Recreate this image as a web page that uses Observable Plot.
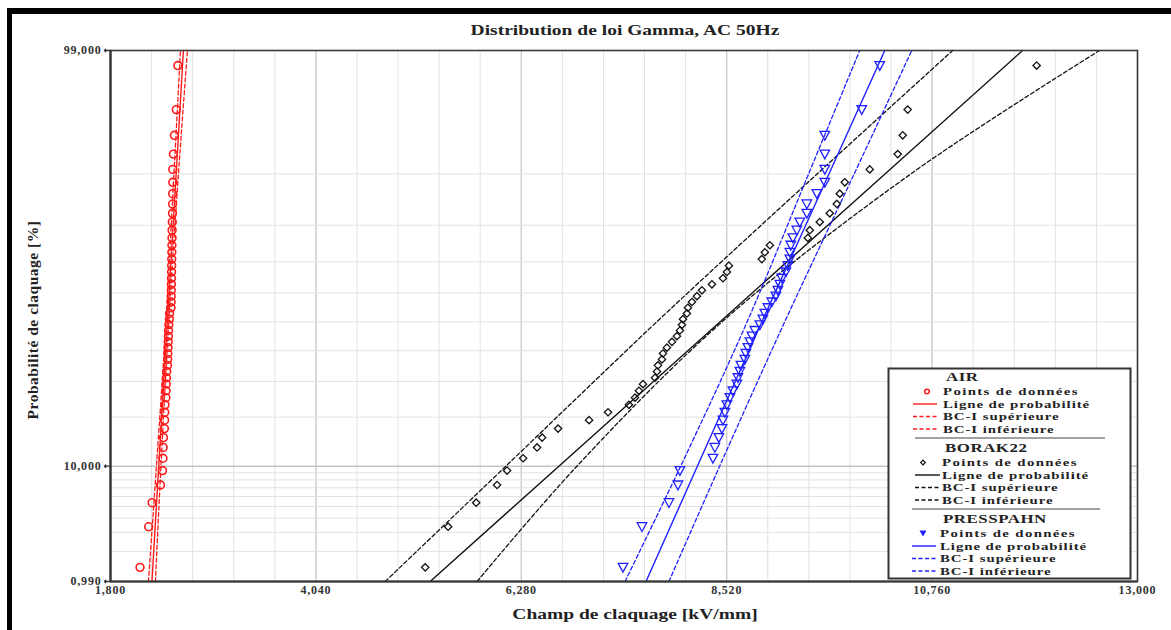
<!DOCTYPE html>
<html>
<head>
<meta charset="utf-8">
<script src="https://cdn.jsdelivr.net/npm/d3@7"></script>
<script src="https://cdn.jsdelivr.net/npm/@observablehq/plot@0.6"></script>
<style>
  html, body { margin: 0; padding: 0; background: #fff; }
  #fig { position: relative; width: 1171px; height: 630px; overflow: hidden;
         font-family: "Liberation Serif", "Times New Roman", serif; font-weight: bold; color: #222; }
  #cadre { position: absolute; left: 7px; top: 8px; width: 1300px; height: 800px;
           border-left: 5px solid #000; border-top: 6px solid #000; }
  .t { position: absolute; white-space: nowrap; line-height: 1; }
  #fig svg { position: absolute; left: 0; top: 0; }
</style>
</head>
<body>
<div id="fig"><div id="cadre"></div></div>
<script>
// Probabilités de claquage (%) des 50 essais, rangées par ordre croissant
const probClaquage = [1.39, 3.37, 5.36, 7.34, 9.33, 11.31, 13.29, 15.28, 17.26, 19.25,
  21.23, 23.21, 25.20, 27.18, 29.17, 31.15, 33.13, 35.12, 37.10, 39.09,
  41.07, 43.06, 45.04, 47.02, 49.01, 50.99, 52.98, 54.96, 56.94, 58.93,
  60.91, 62.90, 64.88, 66.87, 68.85, 70.83, 72.82, 74.80, 76.79, 78.77,
  80.75, 82.74, 84.72, 86.71, 88.69, 90.67, 92.66, 94.64, 96.63, 98.61];

// Champs de claquage mesurés (kV/mm), même ordre
const champAir = [2.122, 2.216, 2.254, 2.345, 2.367, 2.372, 2.374, 2.378, 2.388, 2.390,
  2.392, 2.395, 2.404, 2.406, 2.408, 2.410, 2.413, 2.422, 2.423, 2.425,
  2.427, 2.429, 2.431, 2.433, 2.436, 2.442, 2.444, 2.460, 2.461, 2.462,
  2.463, 2.464, 2.465, 2.466, 2.467, 2.468, 2.469, 2.470, 2.471, 2.472,
  2.474, 2.476, 2.477, 2.478, 2.479, 2.479, 2.486, 2.497, 2.517, 2.535];
const champBorak = [5.232, 5.482, 5.788, 6.016, 6.125, 6.300, 6.452, 6.507, 6.681, 7.019,
  7.226, 7.454, 7.520, 7.563, 7.607, 7.738, 7.760, 7.770, 7.814, 7.825,
  7.868, 7.923, 7.977, 8.010, 8.032, 8.043, 8.086, 8.097, 8.141, 8.195,
  8.250, 8.359, 8.479, 8.522, 8.544, 8.903, 8.936, 8.991, 9.405, 9.426,
  9.535, 9.644, 9.721, 9.753, 9.808, 10.080, 10.385, 10.440, 10.494, 11.900];
const champPresspahn = [7.389, 7.596, 7.890, 7.988, 8.010, 8.370, 8.391, 8.435, 8.468, 8.479,
  8.500, 8.522, 8.555, 8.588, 8.631, 8.642, 8.664, 8.675, 8.718, 8.729,
  8.751, 8.773, 8.795, 8.827, 8.882, 8.914, 8.936, 8.969, 9.012, 9.056,
  9.078, 9.100, 9.121, 9.165, 9.187, 9.209, 9.209, 9.219, 9.241, 9.285,
  9.317, 9.394, 9.394, 9.503, 9.590, 9.590, 9.590, 9.590, 9.993, 10.189];

// Lignes de probabilité et bornes de confiance (BC-I), champ (kV/mm) aux probabilités lignesP
const lignesP = [0.99, 10, 50, 90, 99];
const airLigne = [2.252, 2.326, 2.420, 2.516, 2.595];
const airSup   = [2.214, 2.301, 2.405, 2.492, 2.563];
const airInf   = [2.290, 2.350, 2.435, 2.541, 2.639];
const borakLigne = [5.286, 6.690, 8.446, 10.246, 11.747];
const borakSup   = [4.796, 6.111, 7.756, 9.506, 10.984];
const borakInf   = [5.798, 6.886, 8.468, 10.527, 12.586];
const pressLigne = [7.640, 8.200, 8.903, 9.635, 10.244];
const pressSup   = [7.411, 8.018, 8.742, 9.413, 9.971];
const pressInf   = [7.890, 8.443, 9.152, 9.910, 10.538];

// Axes
const xTicks = [1.8, 4.04, 6.28, 8.52, 10.76, 13];
const xGridPas = 0.448;
const yTicks = [0.99, 10, 99];
const yGrid = [2, 3, 4, 5, 6, 7, 8, 9, 20, 30, 40, 50, 60, 70, 80, 90];

const rouge = "#ff1a1a", bleu = "#1f1fff", noir = "#111";

// Quantile de la loi normale (Acklam)
function probit(p) {
  const a = [-3.969683028665376e+01, 2.209460984245205e+02, -2.759285104469687e+02, 1.383577518672690e+02, -3.066479806614716e+01, 2.506628277459239e+00];
  const b = [-5.447609879822406e+01, 1.615858368580409e+02, -1.556989798598866e+02, 6.680131188771972e+01, -1.328068155288572e+01];
  const c = [-7.784894002430293e-03, -3.223964580411365e-01, -2.400758277161838e+00, -2.549671750376435e+00, 4.374664141464968e+00, 2.938163982698783e+00];
  const d = [7.784695709041462e-03, 3.224671290700398e-01, 2.445134137142996e+00, 3.754408661907416e+00];
  const pl = 0.02425;
  if (p < pl) {
    const q = Math.sqrt(-2 * Math.log(p));
    return (((((c[0]*q+c[1])*q+c[2])*q+c[3])*q+c[4])*q+c[5]) / ((((d[0]*q+d[1])*q+d[2])*q+d[3])*q+1);
  }
  if (p > 1 - pl) {
    const q = Math.sqrt(-2 * Math.log(1 - p));
    return -(((((c[0]*q+c[1])*q+c[2])*q+c[3])*q+c[4])*q+c[5]) / ((((d[0]*q+d[1])*q+d[2])*q+d[3])*q+1);
  }
  const q = p - 0.5, r = q * q;
  return (((((a[0]*r+a[1])*r+a[2])*r+a[3])*r+a[4])*r+a[5])*q / (((((b[0]*r+b[1])*r+b[2])*r+b[3])*r+b[4])*r+1);
}
// Échelle de probabilité gamma (approximation de Wilson–Hilferty)
const kGamma = 0.01;
const yT = pct => Math.pow(1 - kGamma * kGamma + kGamma * probit(pct / 100), 3);

const fmt3 = v => v.toFixed(3).replace(".", ",");

// Triangle pointe en bas
const triangleBas = {
  draw(ctx, size) {
    const w = Math.sqrt(size) * 1.25;
    ctx.moveTo(-w / 2, -w * 0.42);
    ctx.lineTo(w / 2, -w * 0.42);
    ctx.lineTo(0, w * 0.5);
    ctx.closePath();
  }
};

const points = (champ) => champ.map((kv, i) => ({kv, p: probClaquage[i]}));
const courbe = (champ) => champ.map((kv, i) => ({kv, p: lignesP[i]}));

function lignes(ligne, sup, inf, stroke) {
  return [
    Plot.line(courbe(ligne), {x: "kv", y: d => yT(d.p), stroke, strokeWidth: 1.4}),
    Plot.line(courbe(sup), {x: "kv", y: d => yT(d.p), stroke, strokeWidth: 1.3, strokeDasharray: "4,2.5", curve: "catmull-rom"}),
    Plot.line(courbe(inf), {x: "kv", y: d => yT(d.p), stroke, strokeWidth: 1.3, strokeDasharray: "4,2.5", curve: "catmull-rom"})
  ];
}

const chart = Plot.plot({
  width: 1171,
  height: 630,
  marginLeft: 110,
  marginRight: 34,
  marginTop: 50,
  marginBottom: 49,
  style: {fontFamily: "'Liberation Serif', serif", fontWeight: "bold", background: "transparent", color: "#333", letterSpacing: "0.8px"},
  x: {domain: [xTicks[0], xTicks[xTicks.length - 1]], axis: null},
  y: {domain: [yT(yTicks[0]), yT(yTicks[yTicks.length - 1])], axis: null},
  marks: [
    Plot.ruleX(d3.range(xTicks[0], xTicks[xTicks.length - 1] + 1e-6, xGridPas), {stroke: "#e2e2e2", strokeWidth: 1}),
    Plot.ruleX(xTicks, {stroke: "#cdcdcd", strokeWidth: 1.3}),
    Plot.ruleY(yGrid, {y: d => yT(d), stroke: "#e2e2e2", strokeWidth: 1}),
    Plot.ruleY([10], {y: d => yT(d), stroke: "#c4c4c4", strokeWidth: 1.6}),

    ...lignes(airLigne, airSup, airInf, rouge),
    ...lignes(borakLigne, borakSup, borakInf, noir),
    ...lignes(pressLigne, pressSup, pressInf, bleu),

    Plot.dot(points(champAir), {x: "kv", y: d => yT(d.p), r: 3.9, stroke: rouge, strokeWidth: 1.6, fill: "none"}),
    Plot.dot(points(champBorak), {x: "kv", y: d => yT(d.p), r: 3.3, symbol: "diamond2", stroke: noir, strokeWidth: 1.3, fill: "none"}),
    Plot.dot(points(champPresspahn), {x: "kv", y: d => yT(d.p), r: 4.3, symbol: triangleBas, stroke: bleu, strokeWidth: 1.3, fill: "none"}),

    Plot.frame({stroke: "#3a3a3a", strokeWidth: 1.6}),
    Plot.ruleX([xTicks[0]], {stroke: "#333", strokeWidth: 2.2}),
    Plot.ruleY([yTicks[0]], {y: d => yT(d), stroke: "#333", strokeWidth: 2.2}),
    Plot.vector(yTicks, {y: d => yT(d), frameAnchor: "left", rotate: -90, length: 6, anchor: "start", stroke: "#333", strokeWidth: 1.3}),
    Plot.text(yTicks, {y: d => yT(d), frameAnchor: "left", dx: -9, textAnchor: "end", text: fmt3, fontSize: 12, fill: "#333"}),
    Plot.text(xTicks, {x: d => d, frameAnchor: "bottom", dy: 12, text: fmt3, fontSize: 12, fill: "#333"})
  ]
});

const fig = document.getElementById("fig");
fig.appendChild(chart);

// Titres
function texte(contenu, style) {
  const el = document.createElement("div");
  el.className = "t";
  el.textContent = contenu;
  Object.assign(el.style, style);
  fig.appendChild(el);
  return el;
}
texte("Distribution de loi Gamma, AC 50Hz", {left: "625px", top: "30px", transform: "translate(-50%,-50%) scaleX(1.3)", fontSize: "15px"});
texte("Champ de claquage [kV/mm]", {left: "635px", top: "614px", transform: "translate(-50%,-50%) scaleX(1.3)", fontSize: "15px"});
texte("Probabilité de claquage [%]", {left: "33px", top: "320px", transform: "translate(-50%,-50%) rotate(-90deg)", fontSize: "15.5px", letterSpacing: "0.5px"});

// Légende
const leg = d3.select(fig).append("svg")
  .attr("width", 1171).attr("height", 630)
  .style("font-family", "'Liberation Serif', serif").style("font-weight", "bold");
leg.append("rect").attr("x", 888.5).attr("y", 368.5).attr("width", 242).attr("height", 210)
  .attr("fill", "#fff").attr("stroke", "#333").attr("stroke-width", 2);

const groupes = [
  {nom: "AIR", couleur: rouge, y0: 377, xt: 943, x1: 913, x2: 937, mx: 927, symbole: "cercle"},
  {nom: "BORAK22", couleur: noir, y0: 448, xt: 942, x1: 915, x2: 940, mx: 923, symbole: "losange"},
  {nom: "PRESSPAHN", couleur: bleu, y0: 519, xt: 940, x1: 912, x2: 936, mx: 923, symbole: "triangle"}
];
const items = ["Points de données", "Ligne de probabilité", "BC-I supérieure", "BC-I inférieure"];
function ecrire(x, y, contenu, taille, etirement, espacement) {
  leg.append("text").attr("transform", `translate(${x},${y}) scale(${etirement},1)`)
    .attr("dominant-baseline", "central").attr("font-size", taille).attr("fill", "#222")
    .attr("letter-spacing", espacement).text(contenu);
}
groupes.forEach((g, gi) => {
  ecrire(g.xt + 3, g.y0, g.nom, 13, 1.3, 0.4);
  items.forEach((it, i) => {
    const y = g.y0 + 14.5 + i * 12.5;
    ecrire(g.xt, y, it, 11, 1.35, i === 0 ? 1.0 : 0.7);
    if (i === 0) {
      if (g.symbole === "cercle") {
        leg.append("circle").attr("cx", g.mx).attr("cy", y).attr("r", 2.3).attr("fill", "none").attr("stroke", g.couleur).attr("stroke-width", 1.5);
      } else if (g.symbole === "losange") {
        leg.append("path").attr("d", d3.symbol(d3.symbolDiamond2, 14)()).attr("transform", `translate(${g.mx},${y})`)
          .attr("fill", "none").attr("stroke", g.couleur).attr("stroke-width", 1.2);
      } else {
        leg.append("path").attr("d", `M${g.mx - 3.5},${y - 3}L${g.mx + 3.5},${y - 3}L${g.mx},${y + 3}Z`).attr("fill", g.couleur);
      }
    } else {
      leg.append("line").attr("x1", g.x1).attr("x2", g.x2).attr("y1", y).attr("y2", y)
        .attr("stroke", g.couleur).attr("stroke-width", 1.4).attr("stroke-dasharray", i === 1 ? null : "4,2.5");
    }
  });
  if (gi < 2) {
    const ys = gi === 0 ? 438 : 509;
    leg.append("line").attr("x1", gi === 0 ? 915 : 912).attr("x2", gi === 0 ? 1105 : 1100)
      .attr("y1", ys).attr("y2", ys).attr("stroke", "#444").attr("stroke-width", 1);
  }
});
</script>
</body>
</html>
